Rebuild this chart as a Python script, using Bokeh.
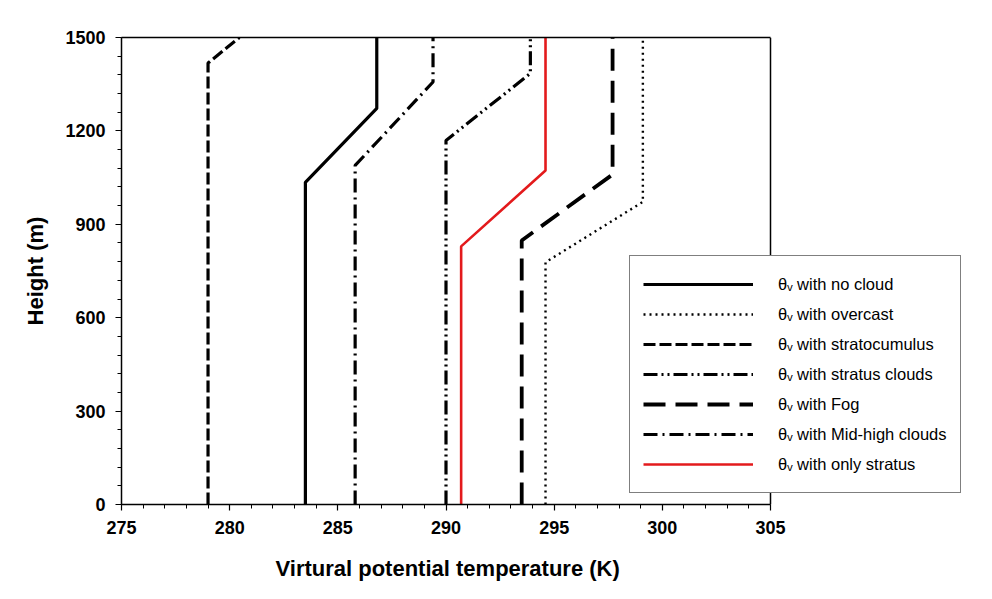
from bokeh.plotting import figure
from bokeh.models import Range1d, FixedTicker, Legend, LegendItem, LinearAxis, Span, Title
from bokeh.embed import file_html
from bokeh.resources import INLINE

# ---- data ----
nocloud_x = [283.5, 283.5, 286.8, 286.8]
nocloud_y = [0, 1035, 1272, 1500]

overcast_x = [294.6, 294.6, 299.1, 299.1]
overcast_y = [0, 778, 972, 1500]

stratocu_x = [279.0, 279.0, 280.45]
stratocu_y = [0, 1418, 1500]

stratus_x = [290.0, 290.0, 293.9, 293.9]
stratus_y = [0, 1169, 1385, 1500]

fog_x = [293.5, 293.5, 297.7, 297.7]
fog_y = [0, 848, 1060, 1500]

midhigh_x = [285.8, 285.8, 289.4, 289.4]
midhigh_y = [0, 1089, 1357, 1500]

only_x = [290.7, 290.7, 294.6, 294.6]
only_y = [0, 829, 1073, 1500]

x_ticks = [275, 280, 285, 290, 295, 300, 305]
y_ticks = [0, 300, 600, 900, 1200, 1500]

labels = ["θᵥ with no cloud", "θᵥ with overcast", "θᵥ with stratocumulus",
          "θᵥ with stratus clouds", "θᵥ with Fog", "θᵥ with Mid-high clouds",
          "θᵥ with only stratus"]

FONT = "Liberation Sans"

# frame: left 121 px, axis 275..305 spans 649 px; frame extended to the right
# so that the legend (which overhangs the axes box) is not clipped.
X0, X1 = 275, 305
LEFT, RIGHT_BORDER = 121, 22
frame_w = 992 - LEFT - RIGHT_BORDER
x_end = X0 + frame_w * (X1 - X0) / 649.0

p = figure(width=992, height=599, output_backend="svg", toolbar_location=None,
           x_range=Range1d(X0, x_end), y_range=Range1d(0, 1500),
           min_border_left=LEFT, min_border_right=RIGHT_BORDER, min_border_top=37,
           min_border_bottom=95)
p.background_fill_color = "white"
p.border_fill_color = "white"
p.grid.visible = False
p.outline_line_color = None

r1 = p.line(nocloud_x, nocloud_y, line_color="black", line_width=3.2)
r2 = p.line(overcast_x, overcast_y, line_color="black", line_width=2.4, line_dash="2 4")
r3 = p.line(stratocu_x, stratocu_y, line_color="black", line_width=3.2, line_dash="12 4")
r4 = p.line(stratus_x, stratus_y, line_color="black", line_width=3.2, line_dash="14 4 2 4 2 4")
r5 = p.line(fog_x, fog_y, line_color="black", line_width=3.8, line_dash="22 10")
r6 = p.line(midhigh_x, midhigh_y, line_color="black", line_width=3.2, line_dash="14 5 2 5")
r7 = p.line(only_x, only_y, line_color="#e31a1c", line_width=2.6)

renderers = [r1, r2, r3, r4, r5, r6, r7]

# right edge of the axes box
p.add_layout(Span(location=X1, dimension="height", line_color="black", line_width=1.5))

legend = Legend(items=[LegendItem(label=l, renderers=[r]) for l, r in zip(labels, renderers)],
                location=(508, 11), orientation="vertical")
legend.glyph_width = 110
legend.glyph_height = 30
legend.label_height = 30
legend.spacing = 0
legend.padding = 13
legend.margin = 0
legend.label_standoff = 25
legend.label_text_font = FONT
legend.label_text_font_size = "16.5px"
legend.label_text_color = "black"
legend.border_line_color = "black"
legend.border_line_width = 1.5
legend.background_fill_alpha = 1.0
p.add_layout(legend)

xa = p.below[0]
ya = p.left[0]

for ax in [xa, ya]:
    ax.axis_line_color = "black"
    ax.axis_line_width = 1.5
    ax.major_tick_line_color = "black"
    ax.minor_tick_line_color = "black"
    ax.major_tick_line_width = 1.2
    ax.minor_tick_line_width = 1
    ax.major_tick_in = 0
    ax.major_tick_out = 6
    ax.minor_tick_in = 0
    ax.minor_tick_out = 4
    ax.major_label_text_font = FONT
    ax.major_label_text_font_style = "bold"
    ax.major_label_text_font_size = "18px"
    ax.major_label_text_color = "black"
    ax.axis_label_text_font = FONT
    ax.axis_label_text_font_style = "bold"
    ax.axis_label_text_font_size = "22px"
    ax.axis_label_text_color = "black"

xa.bounds = (X0, X1)
xa.ticker = FixedTicker(ticks=x_ticks, minor_ticks=list(range(275, 306)))
xa.major_label_standoff = 10

ya.ticker = FixedTicker(ticks=y_ticks, minor_ticks=list(range(0, 1501, 60)))
ya.axis_label = "Height (m)"
ya.major_label_standoff = 10
ya.axis_label_standoff = 14

# x-axis title, centred under the 275..305 axis rather than the widened frame
xtitle = Title(text="Virtural potential temperature (K)", align="left", offset=154,
               text_font=FONT, text_font_style="bold", text_font_size="22px",
               text_color="black", standoff=35)
p.add_layout(xtitle, "below")

# top edge of the axes box
top = LinearAxis(bounds=(X0, X1), ticker=FixedTicker(ticks=[]),
                 major_label_text_font_size="0px", axis_line_width=1.5,
                 axis_line_color="black",
                 major_tick_line_color=None, minor_tick_line_color=None)
p.add_layout(top, "above")

open("out.html", "w").write(file_html(p, INLINE))
